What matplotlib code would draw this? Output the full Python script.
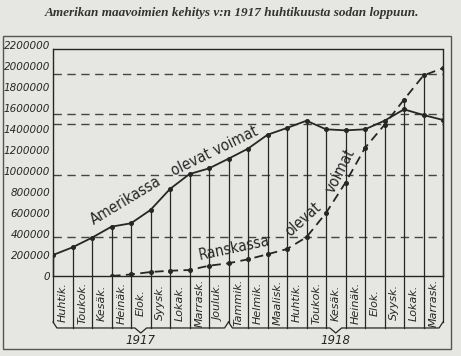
import matplotlib.pyplot as plt
import matplotlib.patches as mpatches

# month columns, Huhtik 1917 .. Marrask 1918
months = ['Huhtik.', 'Toukok.', 'Kesäk.', 'Heinäk.', 'Elok.', 'Syysk.', 'Lokak.',
          'Marrask.', 'Jouluk.', 'Tammik.', 'Helmik.', 'Maalisk.', 'Huhtik.',
          'Toukok.', 'Kesäk.', 'Heinäk.', 'Elok.', 'Syysk.', 'Lokak.', 'Marrask.']
years = ['1917', '1918']
year_span = [(0, 9), (9, 20)]

# troops in America, one value per column boundary (21 points)
amerikassa = [200000, 273000, 365000, 470000, 502000, 629000, 829000, 971000,
              1025000, 1117000, 1213000, 1345000, 1410000, 1479000, 1397000,
              1387000, 1397000, 1479000, 1587000, 1533000, 1486000]
# troops in France, from Heinäk 1917 boundary onwards
ranska_start = 3
ranskassa = [0, 15000, 38000, 50000, 57000, 98000, 121000, 159000, 207000,
             257000, 370000, 600000, 890000, 1220000, 1440000, 1680000,
             1910000, 1980000]

yticks = [0, 200000, 400000, 600000, 800000, 1000000, 1200000, 1400000,
          1600000, 1800000, 2000000, 2200000]
dashed_levels = [1927000, 1540000, 1445000, 959000, 375000]

paper = '#e6e6e3'
ink = '#262626'
font = ['DejaVu Sans']

fig = plt.figure(figsize=(4.61, 3.56), dpi=100, facecolor=paper)
ax = fig.add_axes([53 / 461, 80 / 356, 390 / 461, 231 / 356])
ax.set_facecolor(paper)

n = len(months)
box_top = 2162000
ax.set_xlim(0, n)
ax.set_ylim(0, 2200000)

# dashed reference levels
for lv in dashed_levels:
    ax.axhline(lv, color='#444444', lw=1.0, ls=(0, (6, 4)), zorder=1)

# verticals at every boundary, from the brace up to the higher curve
xs = list(range(n + 1))
y_end = -438000
y_low = -495000
y_tip = -543000
for i in xs:
    top = amerikassa[i]
    if i >= ranska_start:
        top = max(top, ranskassa[i - ranska_start])
    bottom = y_end if i in (0, 9, 20) else y_low
    ax.plot([i, i], [bottom, top], color=ink, lw=0.9, clip_on=False, zorder=2)

# braces under the month columns
for (a, b), yr in zip(year_span, years):
    c = (a + b) / 2
    bx = [a, a + 0.2, c - 0.3, c, c + 0.3, b - 0.2, b]
    by = [y_end, y_low, y_low, y_tip, y_low, y_low, y_end]
    ax.plot(bx, by, color=ink, lw=0.9, clip_on=False)
    ax.text(c, -610000, yr, ha='center', va='center', fontsize=8.5,
            style='italic', color=ink, family=font)

ax.plot(xs, amerikassa, color=ink, lw=1.3, marker='o', ms=2.6, zorder=3)
rx = xs[ranska_start:]
ax.plot(rx, ranskassa, color=ink, lw=1.3, ls=(0, (5, 3)), marker='o',
        ms=2.6, zorder=3)

# hand lettering along the curves
lbl = dict(fontsize=11, color=ink, family=font, ha='center', va='center',
           fontstretch='condensed')
ax.text(3.75, 720000, 'Amerikassa', rotation=31, **lbl)
ax.text(8.3, 1190000, 'olevat voimat', rotation=26, **lbl)
ax.text(9.3, 265000, 'Ranskassa', rotation=12, **lbl)
ax.text(12.85, 540000, 'olevat', rotation=42, **lbl)
ax.text(14.75, 1000000, 'voimat', rotation=63, **lbl)

ax.plot([0, n], [box_top, box_top], color=ink, lw=1.0)
ax.spines['top'].set_visible(False)
ax.spines['left'].set_bounds(0, box_top)
ax.spines['right'].set_bounds(0, box_top)
for s in ['left', 'right', 'bottom']:
    ax.spines[s].set_color(ink)
    ax.spines[s].set_linewidth(1.0)

ax.set_yticks(yticks, [str(v) for v in yticks])
ax.tick_params(axis='y', length=0, pad=2, labelsize=7.5, labelcolor=ink)
for t in ax.get_yticklabels():
    t.set_fontstyle('italic')
    t.set_family(font)

centers = [i + 0.5 for i in range(n)]
ax.set_xticks(centers, months, rotation=90, va='center', ha='center')
ax.tick_params(axis='x', length=0, pad=19, labelsize=8, labelcolor=ink)
for t in ax.get_xticklabels():
    t.set_fontstyle('italic')
    t.set_family(font)

# outer frame
fig.patches.append(mpatches.Rectangle((3 / 461, 7 / 356), 448 / 461, 313 / 356,
                                      transform=fig.transFigure, fill=False,
                                      edgecolor='#555555', lw=1.0))

fig.text(0.503, 0.9635,
         'Amerikan maavoimien kehitys v:n 1917 huhtikuusta sodan loppuun.',
         ha='center', va='center', fontsize=9.5, style='italic',
         weight='bold', family=['Liberation Serif', 'DejaVu Serif'], color='#333333')

fig.savefig('out.png', dpi=100, facecolor=paper)
